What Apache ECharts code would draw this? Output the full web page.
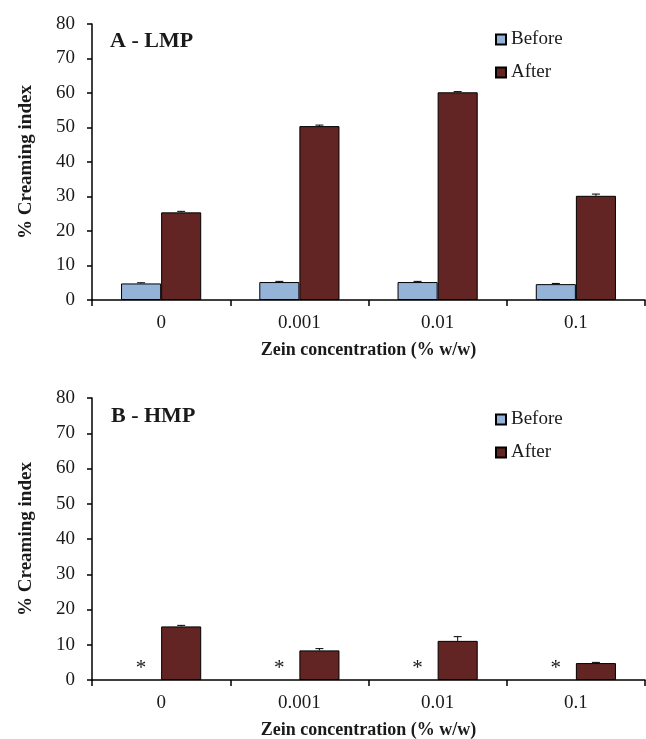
<!DOCTYPE html>
<html>
<head>
<meta charset="utf-8">
<script src="https://cdn.jsdelivr.net/npm/echarts@6/dist/echarts.min.js"></script>
<style>
html,body{margin:0;padding:0;background:#fff;}
#c{width:646px;height:739px;}
</style>
</head>
<body>
<div id="c"></div>
<script>
const categories = ['0', '0.001', '0.01', '0.1'];
const beforeA = [4.8, 5.2, 5.2, 4.6];
const afterA = [25.4, 50.4, 60.2, 30.2];
const beforeAErr = [0.2, 0.2, 0.2, 0.2];
const afterAErr = [0.3, 0.3, 0.2, 0.5];
const beforeB = [0, 0, 0, 0];
const beforeBMark = ['*', '*', '*', '*'];
const afterB = [15.2, 8.4, 11.1, 4.8];
const afterBErr = [0.3, 0.5, 1.2, 0.2];
const yMin = 0, yMax = 80, yInterval = 10;
const panelTitles = ['A - LMP', 'B - HMP'];
const xName = 'Zein concentration (% w/w)';
const yName = '% Creaming index';

const FONT = '"Liberation Serif", "Times New Roman", serif';
const TXT = '#1a1a1a';
const BLUE = '#95B3D7';
const RED = '#632523';
const BAR_FRAC = 0.29;

const chart = echarts.init(document.getElementById('c'), null, {renderer: 'canvas'});

function xAxisCfg(gi) {
  return {
    type: 'category', gridIndex: gi, data: categories,
    axisLine: {lineStyle: {color: '#000', width: 1.5}},
    axisTick: {show: true, length: 6, lineStyle: {color: '#000', width: 1.5}},
    axisLabel: {color: TXT, fontFamily: FONT, fontSize: 19, margin: 14},
    name: xName, nameLocation: 'middle', nameGap: 41,
    nameTextStyle: {color: TXT, fontFamily: FONT, fontSize: 18, fontWeight: 'bold'}
  };
}
function yAxisCfg(gi) {
  return {
    type: 'value', gridIndex: gi, min: yMin, max: yMax, interval: yInterval,
    splitLine: {show: false},
    axisLine: {show: true, lineStyle: {color: '#000', width: 1.5}},
    axisTick: {show: true, length: 5, lineStyle: {color: '#000', width: 1.5}},
    axisLabel: {color: TXT, fontFamily: FONT, fontSize: 19, margin: 17},
    name: yName, nameLocation: 'middle', nameGap: 56,
    nameTextStyle: {color: TXT, fontFamily: FONT, fontSize: 19, fontWeight: 'bold'}
  };
}
function errSeries(gi, vals, errs, side) {
  return {
    type: 'custom', xAxisIndex: gi, yAxisIndex: gi, z: 10,
    data: vals.map((v, i) => [i, v, errs[i]]),
    encode: {x: 0, y: 1},
    renderItem: function (params, api) {
      const i = api.value(0), v = api.value(1), e = api.value(2);
      const bw = api.size([1, 0])[0] * BAR_FRAC;
      const p0 = api.coord([i, v]);
      const p1 = api.coord([i, v + e]);
      const x = p0[0] + side * bw / 2;
      const st = {stroke: '#000', lineWidth: 1};
      return {type: 'group', children: [
        {type: 'line', shape: {x1: x, y1: p0[1], x2: x, y2: p1[1]}, style: st},
        {type: 'line', shape: {x1: x - 4, y1: p1[1], x2: x + 4, y2: p1[1]}, style: st}
      ]};
    }
  };
}
const barStyle = c => ({color: c, borderColor: '#000', borderWidth: 1});
const legendCfg = top => ({
  data: ['Before', 'After'], orient: 'vertical', left: 495, top: top, icon: 'rect',
  itemWidth: 10, itemHeight: 10, itemGap: 14, padding: 0,
  textStyle: {fontFamily: FONT, fontSize: 19, color: TXT}
});

chart.setOption({
  animation: false,
  backgroundColor: '#fff',
  textStyle: {fontFamily: FONT},
  title: [
    {text: panelTitles[0], left: 110, top: 30, padding: 0, textStyle: {fontFamily: FONT, fontSize: 22, fontWeight: 'bold', color: TXT}},
    {text: panelTitles[1], left: 111, top: 405, padding: 0, textStyle: {fontFamily: FONT, fontSize: 22, fontWeight: 'bold', color: TXT}}
  ],
  legend: [legendCfg(30), legendCfg(410)],
  grid: [
    {left: 92, right: 1, top: 24, height: 276, outerBoundsMode: 'none', containLabel: false},
    {left: 92, right: 1, top: 398, height: 282, outerBoundsMode: 'none', containLabel: false}
  ],
  xAxis: [xAxisCfg(0), xAxisCfg(1)],
  yAxis: [yAxisCfg(0), yAxisCfg(1)],
  series: [
    {name: 'Before', type: 'bar', xAxisIndex: 0, yAxisIndex: 0, data: beforeA, barWidth: (BAR_FRAC * 100) + '%', barGap: '0%', itemStyle: barStyle(BLUE)},
    {name: 'After', type: 'bar', xAxisIndex: 0, yAxisIndex: 0, data: afterA, barWidth: (BAR_FRAC * 100) + '%', barGap: '0%', itemStyle: barStyle(RED)},
    {name: 'Before', type: 'bar', xAxisIndex: 1, yAxisIndex: 1, data: beforeB, barWidth: (BAR_FRAC * 100) + '%', barGap: '0%',
     itemStyle: {color: BLUE, borderColor: '#000', borderWidth: 0},
     label: {show: true, position: 'top', distance: 1, formatter: p => beforeBMark[p.dataIndex], fontFamily: FONT, fontSize: 21, color: TXT}},
    {name: 'After', type: 'bar', xAxisIndex: 1, yAxisIndex: 1, data: afterB, barWidth: (BAR_FRAC * 100) + '%', barGap: '0%', itemStyle: barStyle(RED)},
    errSeries(0, beforeA, beforeAErr, -1),
    errSeries(0, afterA, afterAErr, 1),
    errSeries(1, afterB, afterBErr, 1)
  ]
});
</script>
</body>
</html>
